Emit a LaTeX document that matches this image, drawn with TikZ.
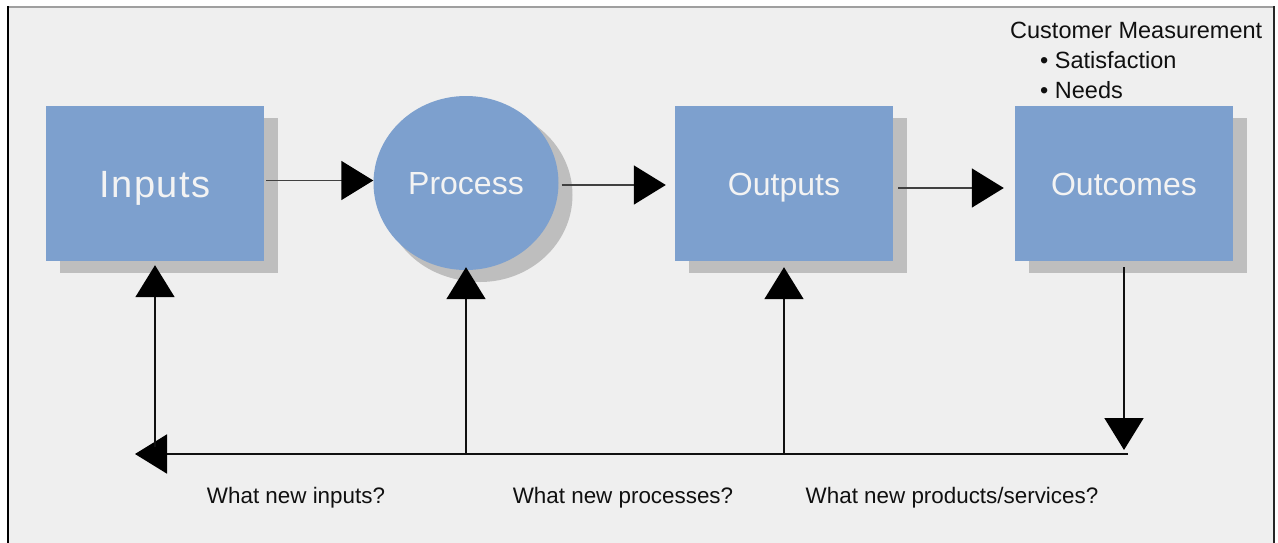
\documentclass[tikz,border=0pt]{standalone}
\usepackage{fontspec}
\setmainfont{Liberation Sans}
\usetikzlibrary{arrows.meta,calc,shapes.geometric,shadows}

\definecolor{boxblue}{HTML}{7DA0CE}
\definecolor{shade}{HTML}{BEBEBE}
\definecolor{panel}{HTML}{EFEFEF}
\definecolor{labelwhite}{HTML}{F3F3F3}
\definecolor{ink}{HTML}{101010}

\begin{document}
\begin{tikzpicture}[x=1pt,y=-1pt,
  stage/.style={rectangle, fill=boxblue, minimum width=218pt, minimum height=155pt,
    inner sep=0pt, text=labelwhite, font=\fontsize{32}{36}\selectfont,
    text height=23.3pt, text depth=0pt,
    drop shadow={shadow xshift=14pt, shadow yshift=-12pt, fill=shade, opacity=1}},
  hub/.style={stage, ellipse, minimum width=185pt, minimum height=174pt,
    drop shadow={shadow xshift=10pt, shadow yshift=-11pt, fill=shade, opacity=1}},
  arr/.style={draw=ink, line width=1.9pt,
    -{Triangle[length=32pt,width=39pt,fill=black,color=black]}},
  flowarr/.style={arr, draw=ink!80, line width=1.6pt},
  question/.style={text=ink, font=\fontsize{22.4}{26}\selectfont, inner sep=0pt},
  note/.style={text=ink, font=\fontsize{23.5}{27}\selectfont, inner sep=0pt, anchor=west}
]
\useasboundingbox (0,0) rectangle (1278,542);

% panel and frame
\fill[panel] (8,7) rectangle (1274,546);
\draw[gray!75, line width=1.2pt] (8,7) -- (1274,7);
\draw[black, line width=2pt] (8,6.4) -- (8,546);
\draw[black!85, line width=2pt] (1274,6.4) -- (1274,546);

% stages
\node[stage, text height=27.5pt] (in) at (155,183.5)
  {\fontsize{38}{40}\selectfont\addfontfeature{LetterSpace=4}Inputs};
\node[hub] (proc) at (466,183) {Process};
\node[stage] (out) at (784,183.5) {Outputs};
\node[stage] (res) at (1124,183.5) {Outcomes};

% forward flow
\draw[flowarr] ($(in.east)+(2,-3)$) -- ($(proc.west)+(0,-2.5)$);
\draw[flowarr] ($(proc.east)+(3,2)$) -- ($(out.west)+(-9,1.5)$);
\draw[flowarr] ($(out.east)+(5,4.5)$) -- ($(res.west)+(-11,4.5)$);

% feedback loop
\coordinate (fbR) at (1128,454);
\coordinate (fbL) at (135,454);
\draw[arr] ($(res.south)+(0,6)$) -- ($(res.south |- fbL)+(0,-4)$);
\draw[arr] (fbR) -- (fbL);
\draw[arr] ($(in.south |- fbL)+(0,-7)$) -- ($(in.south)+(0,4)$);
\draw[arr] (proc.south |- fbL) -- ($(proc.south)+(0,-3)$);
\draw[arr] (out.south |- fbL) -- ($(out.south)+(0,6)$);

% questions
\node[question] (qin) at (296,498) {What new inputs?};
\node[question] (qproc) at (623,498) {What new processes?};
\node[question] (qout) at (952,498) {What new products/services?};

% customer measurement note
\node[note] (cm) at (1010,30) {Customer Measurement};
\node[note] (cms) at (1040,60) {• Satisfaction};
\node[note] (cmn) at (1040,90) {• Needs};
\end{tikzpicture}
\end{document}
